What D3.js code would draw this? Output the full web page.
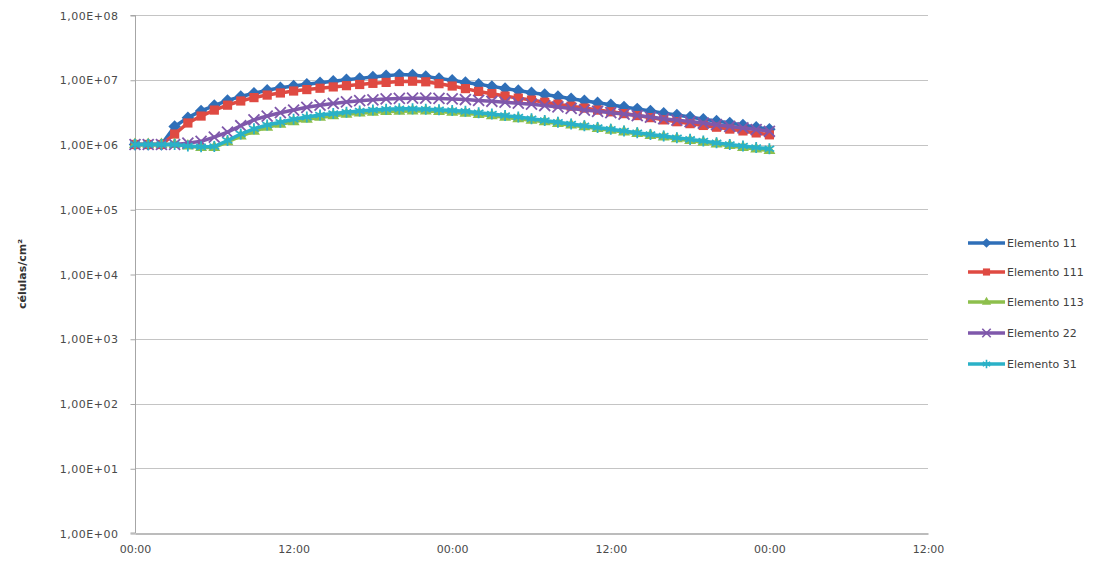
<!DOCTYPE html>
<html>
<head>
<meta charset="utf-8">
<script src="https://cdn.jsdelivr.net/npm/d3@7"></script>
<style>
  html, body { margin: 0; padding: 0; background: #ffffff; }
  svg { display: block; }
  text { font-family: "DejaVu Sans", sans-serif; }
</style>
</head>
<body>
<svg id="chart" width="1105" height="564"></svg>
<script>
// Hours since start of the run (one sample per hour, 0..48 h)
const hours = d3.range(0, 49);

// Cell density per element (células/cm²)
const elemento11 = [
  1.00e6, 1.00e6, 1.00e6, 1.90e6, 2.60e6, 3.30e6, 4.00e6, 4.80e6, 5.50e6, 6.20e6,
  6.90e6, 7.50e6, 8.00e6, 8.50e6, 9.00e6, 9.50e6, 1.00e7, 1.05e7, 1.10e7, 1.15e7,
  1.20e7, 1.18e7, 1.12e7, 1.05e7, 9.80e6, 9.10e6, 8.50e6, 7.90e6, 7.30e6, 6.80e6,
  6.30e6, 5.90e6, 5.50e6, 5.10e6, 4.75e6, 4.40e6, 4.10e6, 3.80e6, 3.55e6, 3.30e6,
  3.05e6, 2.85e6, 2.65e6, 2.45e6, 2.30e6, 2.15e6, 2.00e6, 1.85e6, 1.72e6
];
const elemento111 = [
  1.00e6, 1.00e6, 1.00e6, 1.45e6, 2.15e6, 2.75e6, 3.40e6, 4.05e6, 4.70e6, 5.30e6,
  5.80e6, 6.25e6, 6.70e6, 7.05e6, 7.40e6, 7.75e6, 8.10e6, 8.45e6, 8.80e6, 9.10e6,
  9.40e6, 9.50e6, 9.30e6, 8.70e6, 8.00e6, 7.30e6, 6.60e6, 6.10e6, 5.60e6, 5.20e6,
  4.85e6, 4.50e6, 4.20e6, 3.90e6, 3.65e6, 3.40e6, 3.20e6, 3.00e6, 2.80e6, 2.60e6,
  2.40e6, 2.25e6, 2.10e6, 1.97e6, 1.85e6, 1.73e6, 1.62e6, 1.51e6, 1.41e6
];
const elemento113 = [
  1.00e6, 1.00e6, 1.00e6, 1.00e6, 0.95e6, 0.90e6, 0.90e6, 1.10e6, 1.35e6, 1.60e6,
  1.85e6, 2.05e6, 2.25e6, 2.45e6, 2.62e6, 2.78e6, 2.92e6, 3.05e6, 3.15e6, 3.22e6,
  3.27e6, 3.30e6, 3.28e6, 3.22e6, 3.13e6, 3.03e6, 2.90e6, 2.77e6, 2.63e6, 2.50e6,
  2.37e6, 2.24e6, 2.11e6, 1.99e6, 1.88e6, 1.77e6, 1.66e6, 1.56e6, 1.47e6, 1.38e6,
  1.30e6, 1.22e6, 1.15e6, 1.08e6, 1.02e6, 0.96e6, 0.90e6, 0.85e6, 0.81e6
];
const elemento22 = [
  1.00e6, 1.00e6, 1.00e6, 1.00e6, 1.05e6, 1.12e6, 1.30e6, 1.55e6, 1.95e6, 2.40e6,
  2.75e6, 3.10e6, 3.40e6, 3.75e6, 4.05e6, 4.30e6, 4.55e6, 4.75e6, 4.90e6, 5.05e6,
  5.15e6, 5.20e6, 5.20e6, 5.15e6, 5.05e6, 4.95e6, 4.80e6, 4.65e6, 4.50e6, 4.35e6,
  4.20e6, 4.00e6, 3.80e6, 3.60e6, 3.40e6, 3.25e6, 3.10e6, 2.95e6, 2.80e6, 2.65e6,
  2.50e6, 2.38e6, 2.26e6, 2.14e6, 2.02e6, 1.90e6, 1.80e6, 1.70e6, 1.60e6
];
const elemento31 = [
  1.00e6, 1.00e6, 1.00e6, 1.00e6, 0.95e6, 0.92e6, 0.93e6, 1.15e6, 1.45e6, 1.75e6,
  2.00e6, 2.20e6, 2.45e6, 2.65e6, 2.85e6, 3.00e6, 3.15e6, 3.30e6, 3.40e6, 3.50e6,
  3.55e6, 3.55e6, 3.50e6, 3.45e6, 3.35e6, 3.25e6, 3.10e6, 2.95e6, 2.80e6, 2.65e6,
  2.50e6, 2.35e6, 2.20e6, 2.07e6, 1.95e6, 1.83e6, 1.72e6, 1.62e6, 1.52e6, 1.43e6,
  1.35e6, 1.27e6, 1.20e6, 1.13e6, 1.06e6, 1.00e6, 0.95e6, 0.90e6, 0.86e6
];

// Axis ticks
const xTickHours = [0, 12, 24, 36, 48, 60];
const xTickLabels = ["00:00", "12:00", "00:00", "12:00", "00:00", "12:00"];
const yTickValues = [1e0, 1e1, 1e2, 1e3, 1e4, 1e5, 1e6, 1e7, 1e8];
const yTickLabels = ["1,00E+00", "1,00E+01", "1,00E+02", "1,00E+03", "1,00E+04",
                     "1,00E+05", "1,00E+06", "1,00E+07", "1,00E+08"];

const seriesNames = ["Elemento 11", "Elemento 111", "Elemento 113", "Elemento 22", "Elemento 31"];
const seriesValues = [elemento11, elemento111, elemento113, elemento22, elemento31];

// Square diamond (a square turned by 45°), as in spreadsheet charts
const symbolRhombus = {
  draw(context, size) {
    const w = Math.sqrt(size / 2);
    context.moveTo(0, -w);
    context.lineTo(w, 0);
    context.lineTo(0, w);
    context.lineTo(-w, 0);
    context.closePath();
  }
};

// Appearance of each series: colour and marker shape
const styles = [
  { color: "#2f6fb8", symbol: symbolRhombus, size: 78, stroke: false },
  { color: "#df4a42", symbol: d3.symbolSquare, size: 85, stroke: false },
  { color: "#8dbf4c", symbol: d3.symbolTriangle, size: 62, stroke: false },
  { color: "#7f58ab", symbol: d3.symbolX, size: 80, stroke: true },
  { color: "#2ab1c7", symbol: d3.symbolAsterisk, size: 85, stroke: true }
];

const svg = d3.select("#chart");
const plot = { left: 135, right: 928, top: 15, bottom: 533 };

const x = d3.scaleLinear().domain([0, 60]).range([plot.left, plot.right]);
const y = d3.scaleLog().domain([1, 1e8]).range([plot.bottom, plot.top]);

// Horizontal gridlines
svg.append("g")
  .selectAll("line")
  .data(yTickValues.slice(1))
  .join("line")
  .attr("x1", plot.left).attr("x2", plot.right)
  .attr("y1", d => Math.round(y(d)) + 0.5).attr("y2", d => Math.round(y(d)) + 0.5)
  .attr("stroke", "#c4c4c4").attr("stroke-width", 1);

// Y axis
const yAxis = d3.axisLeft(y)
  .tickValues(yTickValues)
  .tickFormat((d, i) => yTickLabels[i])
  .tickSize(5)
  .tickPadding(12);
const gy = svg.append("g")
  .attr("transform", `translate(${plot.left + 0.5},0.5)`)
  .call(yAxis);
gy.select(".domain").attr("stroke", "#a6a6a6").attr("d", `M-5,${plot.top}H0V${plot.bottom - 0.5}H-5`);
gy.selectAll(".tick line").attr("stroke", "#a6a6a6");
gy.selectAll(".tick text")
  .attr("fill", "#4a4a4a")
  .style("font-size", "11px")
  .style("letter-spacing", "0.5px");

// X axis
const xAxis = d3.axisBottom(x)
  .tickValues(xTickHours)
  .tickFormat((d, i) => xTickLabels[i])
  .tickSize(0)
  .tickPadding(12);
const gx = svg.append("g")
  .attr("transform", `translate(0,${plot.bottom + 0.5})`)
  .call(xAxis);
gx.select(".domain").attr("stroke", "#a6a6a6").attr("stroke-width", 1.5);
gx.selectAll(".tick text")
  .attr("fill", "#4a4a4a")
  .style("font-size", "11px");

// Y axis title
svg.append("text")
  .attr("transform", `translate(26,${(plot.top + plot.bottom) / 2}) rotate(-90)`)
  .attr("text-anchor", "middle")
  .attr("fill", "#333333")
  .style("font-size", "11px")
  .style("font-weight", "bold")
  .text("células/cm²");

// Series: line and markers, drawn in order
const line = d3.line()
  .x((d, i) => x(hours[i]))
  .y(d => y(d));

seriesValues.forEach((vals, si) => {
  const st = styles[si];
  const g = svg.append("g");
  g.append("path")
    .datum(vals)
    .attr("fill", "none")
    .attr("stroke", st.color)
    .attr("stroke-width", 3.5)
    .attr("stroke-linejoin", "round")
    .attr("d", line);
  g.selectAll("path.marker")
    .data(vals)
    .join("path")
    .attr("class", "marker")
    .attr("transform", (d, i) => `translate(${x(hours[i])},${y(d)})`)
    .attr("d", d3.symbol().type(st.symbol).size(st.size))
    .attr("fill", st.stroke ? "none" : st.color)
    .attr("stroke", st.stroke ? st.color : "none")
    .attr("stroke-width", st.stroke ? 1.8 : 0);
});

// Legend
const legendRows = [243, 272, 302, 333, 364];
const legend = svg.append("g");
seriesNames.forEach((name, i) => {
  const st = styles[i];
  const ly = legendRows[i];
  legend.append("line")
    .attr("x1", 968).attr("x2", 1005)
    .attr("y1", ly).attr("y2", ly)
    .attr("stroke", st.color).attr("stroke-width", 3.5);
  legend.append("path")
    .attr("transform", `translate(986.5,${ly})`)
    .attr("d", d3.symbol().type(st.symbol).size(st.size * 0.6))
    .attr("fill", st.stroke ? "none" : st.color)
    .attr("stroke", st.stroke ? st.color : "none")
    .attr("stroke-width", st.stroke ? 1.6 : 0);
  legend.append("text")
    .attr("x", 1007).attr("y", ly)
    .attr("dy", "0.35em")
    .attr("fill", "#404040")
    .style("font-size", "11px")
    .text(name);
});
</script>
</body>
</html>
